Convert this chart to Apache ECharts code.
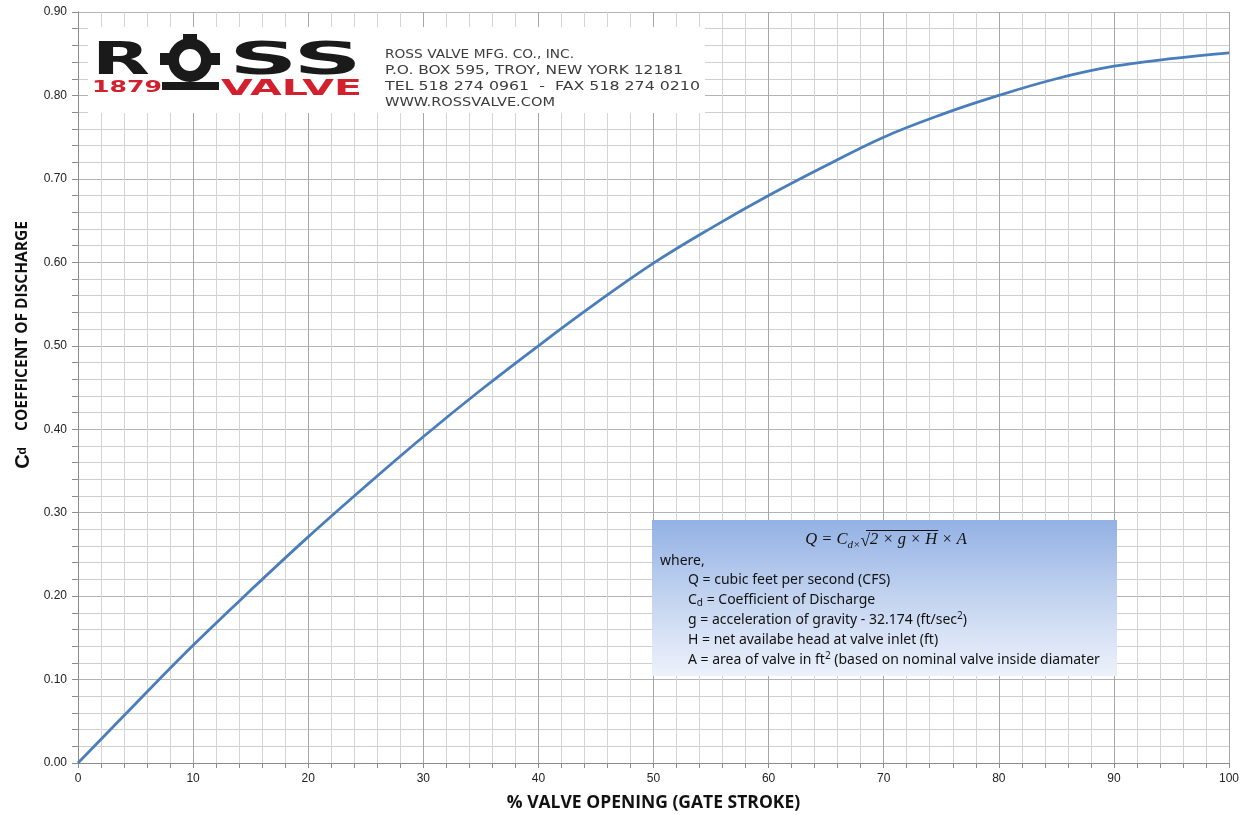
<!DOCTYPE html>
<html>
<head>
<meta charset="utf-8">
<script src="https://cdn.jsdelivr.net/npm/echarts@6/dist/echarts.min.js"></script>
<style>html,body{margin:0;padding:0;background:#fff}#c{width:1248px;height:815px}</style>
</head>
<body>
<div id="c"></div>
<script>
// Data
const valveOpening = [0, 5, 10, 15, 20, 25, 30, 35, 40, 45, 50, 55, 60, 65, 70, 75, 80, 85, 90, 95, 100];
const cdValues = [0.000, 0.071, 0.141, 0.207, 0.271, 0.332, 0.391, 0.447, 0.500, 0.551, 0.599, 0.641, 0.680, 0.716, 0.750, 0.777, 0.800, 0.820, 0.835, 0.844, 0.851];
const xTicks = [0, 100, 10];
const yTicks = [0, 0.9, 0.1];
const xTitle = '% VALVE OPENING (GATE STROKE)';
const yTitle = 'COEFFICENT OF DISCHARGE';
const companyLines = ['ROSS VALVE MFG. CO., INC.', 'P.O. BOX 595, TROY, NEW YORK 12181', 'TEL 518 274 0961  -  FAX 518 274 0210', 'WWW.ROSSVALVE.COM'];
const boxLines = ['Q = cubic feet per second (CFS)', '= Coefficient of Discharge', 'g = acceleration of gravity - 32.174 (ft/sec', 'H = net availabe head at valve inlet (ft)', 'A = area of valve in ft'];

const chart = echarts.init(document.getElementById('c'));
const font = 'Liberation Sans, Arial, sans-serif';
const boxFont = '"Noto Sans", "Open Sans", sans-serif';
const serif = '"Liberation Serif", "DejaVu Serif", serif';

function measure(text, f){
  const t = new echarts.graphic.Text({style:{text:text, font:f}});
  return t.getBoundingRect().width;
}
function fitText(text, f, x1, x2, yc, color){
  const w = measure(text, f);
  return {type:'text', x:x1, y:yc, scaleX:(x2-x1)/w, originX:0, originY:0,
    style:{text:text, font:f, fill:color, align:'left', verticalAlign:'middle'}, z:11};
}

const logoFont = '900 44px "DejaVu Sans", sans-serif';
const graphics = [
  {type:'rect', shape:{x:88,y:27,width:617,height:86}, style:{fill:'#ffffff'}, z:10},
  fitText('R', logoFont, 92, 150, 63, '#1a1a1a'),
  fitText('SS', logoFont, 229, 362, 63, '#1a1a1a'),
  {type:'ring', shape:{cx:190, cy:60, r:22, r0:11}, style:{fill:'#1a1a1a'}, z:11},
  {type:'rect', shape:{x:183,y:34,width:14,height:9}, style:{fill:'#1a1a1a'}, z:11},
  {type:'rect', shape:{x:160,y:53,width:9,height:12}, style:{fill:'#1a1a1a'}, z:11},
  {type:'rect', shape:{x:211,y:53,width:9,height:12}, style:{fill:'#1a1a1a'}, z:11},
  {type:'rect', shape:{x:162,y:82,width:57,height:8}, style:{fill:'#1a1a1a'}, z:11},
  fitText('1879', 'bold 15px "DejaVu Sans", sans-serif', 92, 162, 88, '#d3202f'),
  fitText('VALVE', '900 22px "DejaVu Sans", sans-serif', 221, 362, 89, '#d3202f')
];
const compEnds = [574, 683, 700, 555];
const compY = [55, 71, 87, 103];
companyLines.forEach((t,i)=>{
  graphics.push(fitText(t, '11.5px "DejaVu Sans", sans-serif', 385, compEnds[i], compY[i], '#3c3c3c'));
});
graphics.push({type:'rect', shape:{x:652,y:520,width:465,height:156},
  style:{fill:new echarts.graphic.LinearGradient(0,0,0,1,[{offset:0,color:'#93b1e4'},{offset:0.5,color:'#c3d4f0'},{offset:1,color:'#edf2fb'}])}, z:10});

const fI = 'italic 16.5px ' + serif, fS = 'italic 11px ' + serif, fR = '17.5px ' + serif;
const pieces = [['Q = C', fI, 540], ['d×', fS, 545], ['√', fR, 541], ['2 × g × H', fI, 540], [' × A', fI, 540]];
const widths = pieces.map(p => measure(p[0], p[1]));
const total = widths.reduce((a,b)=>a+b, 0);
let cx = 886 - total/2;
let ovStart = 0, ovEnd = 0;
pieces.forEach((p,i)=>{
  graphics.push({type:'text', x:cx, y:p[2], style:{text:p[0], font:p[1], fill:'#111', align:'left', verticalAlign:'middle'}, z:11});
  if (i === 3) { ovStart = cx - 1; ovEnd = cx + widths[i] + 1; }
  cx += widths[i];
});
graphics.push({type:'line', shape:{x1:ovStart-3,y1:530.5,x2:ovEnd,y2:530.5}, style:{stroke:'#111', lineWidth:1}, z:11});

const tf = '14px ' + boxFont;
const sf = '10px ' + boxFont;
graphics.push({type:'text', x:660, y:561, style:{text:'where,', font:tf, fill:'#111', verticalAlign:'middle'}, z:11});
const ly = [580, 600, 620, 640, 660];
graphics.push({type:'text', x:688, y:ly[0], style:{text:boxLines[0], font:tf, fill:'#111', verticalAlign:'middle'}, z:11});
graphics.push({type:'text', x:688, y:ly[1], style:{verticalAlign:'middle', text:'{a|C}{s|d}{a| '+boxLines[1]+'}', rich:{a:{font:tf, fill:'#111'}, s:{font:sf, fill:'#111', verticalAlign:'bottom', padding:[7,0,0,0]}}}, z:11});
graphics.push({type:'text', x:688, y:ly[2], style:{verticalAlign:'middle', text:'{a|'+boxLines[2]+'}{p|2}{a|)}', rich:{a:{font:tf, fill:'#111'}, p:{font:sf, fill:'#111', verticalAlign:'top', padding:[0,0,7,0]}}}, z:11});
graphics.push({type:'text', x:688, y:ly[3], style:{text:boxLines[3], font:tf, fill:'#111', verticalAlign:'middle'}, z:11});
graphics.push({type:'text', x:688, y:ly[4], style:{verticalAlign:'middle', text:'{a|'+boxLines[4]+'}{p|2}{a| (based on nominal valve inside diamater}', rich:{a:{font:tf, fill:'#111'}, p:{font:sf, fill:'#111', verticalAlign:'top', padding:[0,0,7,0]}}}, z:11});
graphics.push({type:'text', x:23, y:345, rotation:Math.PI/2, style:{
  text:'{c|C}{s|d}{t|    '+yTitle+'}', align:'center', verticalAlign:'middle',
  rich:{c:{font:'bold 20px '+font, fill:'#111'}, s:{font:'bold 12px '+font, fill:'#111'}, t:{font:'bold 15.5px "Open Sans", '+font, fill:'#111'}}}, z:11});

chart.setOption({
  animation:false,
  backgroundColor:'#ffffff',
  grid:{left:78, right:19, top:12, bottom:52, containLabel:false, outerBoundsMode:'none'},
  xAxis:{
    type:'value', min:xTicks[0], max:xTicks[1], interval:xTicks[2],
    name:xTitle, nameLocation:'middle', nameGap:31,
    nameTextStyle:{fontFamily:'"Open Sans", '+font, fontWeight:'bold', fontSize:17.5, color:'#111'},
    axisLine:{show:true, lineStyle:{color:'#8c8c8c', width:1}},
    axisTick:{show:true, length:5, lineStyle:{color:'#8c8c8c'}},
    minorTick:{show:true, splitNumber:5, length:5, lineStyle:{color:'#8c8c8c'}},
    axisLabel:{fontFamily:font, fontSize:12, color:'#222', margin:10},
    splitLine:{show:true, lineStyle:{color:'#a6a6a6', width:1}},
    minorSplitLine:{show:true, lineStyle:{color:'#d4d4d4', width:1}}
  },
  yAxis:{
    type:'value', min:yTicks[0], max:yTicks[1], interval:yTicks[2],
    axisLine:{show:true, lineStyle:{color:'#8c8c8c', width:1}},
    axisTick:{show:true, length:6, lineStyle:{color:'#8c8c8c'}},
    minorTick:{show:true, splitNumber:5, length:6, lineStyle:{color:'#8c8c8c'}},
    axisLabel:{fontFamily:font, fontSize:12, color:'#222', margin:11, formatter:v=>v.toFixed(2)},
    splitLine:{show:true, lineStyle:{color:'#b3b3b3', width:1}},
    minorSplitLine:{show:true, lineStyle:{color:'#cfcfcf', width:1}}
  },
  series:[{
    type:'line', data:valveOpening.map((x,i)=>[x, cdValues[i]]),
    smooth:0.4, showSymbol:false, symbol:'none',
    lineStyle:{color:'#4a7ebb', width:2.8}, z:5
  }],
  graphic:graphics
});
</script>
</body>
</html>
